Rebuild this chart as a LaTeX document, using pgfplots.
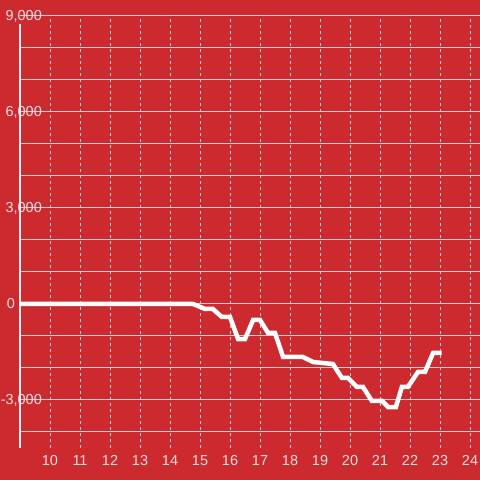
\documentclass[border=0pt]{standalone}
\usepackage{pgfplots}
\pgfplotsset{compat=1.18}
\usepackage{fontspec}
\setmainfont{Liberation Sans}
\definecolor{bg}{RGB}{204,42,46}
\definecolor{lbl}{RGB}{242,222,222}
\definecolor{gridc}{RGB}{205,205,205}
\begin{document}
\begin{tikzpicture}
\fill[bg] (0,0) rectangle (480bp,480bp);
\useasboundingbox (0,0) rectangle (480bp,480bp);
\begin{axis}[
  at={(20bp,32bp)}, anchor=south west,
  scale only axis, width=460bp, height=432bp,
  xmin=9, xmax=24.333, ymin=-4500, ymax=9000,
  xtick={10,11,...,24},
  ytick={-3000,3000,6000,9000},
  minor ytick={-4000,-2000,-1000,1000,2000,4000,5000,7000,8000},
  extra y ticks={0},
  extra y tick labels={0},
  extra y tick style={
    grid style={white, line width=2.6bp, solid},
    yticklabel style={xshift=-27bp},
  },
  scaled y ticks=false,
  /pgf/number format/1000 sep={,},
  /pgf/number format/assume math mode=true,
  major tick length=0pt, minor tick length=0pt,
  axis line style={draw=none},
  ymajorgrids, yminorgrids, xmajorgrids,
  y grid style={gridc, line width=1bp},
  minor y grid style={gridc, line width=1bp},
  x grid style={gridc, line width=1bp, dash pattern=on 3bp off 3bp},
  ticklabel style={color=lbl, font=\fontsize{14.5}{15}\selectfont},
  yticklabel style={anchor=east, inner sep=0pt, xshift=22bp},
  xticklabel style={anchor=north, inner sep=0pt, yshift=-7bp},
  clip=false,
]
\draw[white!94!bg, line width=2.8bp] (rel axis cs:0,0) -- (rel axis cs:0,0.982);
\addplot[white, line width=4.5bp, no markers] coordinates {
(9,0)(14.77,0)(15.17,-156)(15.43,-156)(15.73,-406)(16.0,-406)(16.27,-1094)(16.5,-1094)(16.77,-500)(17.0,-500)(17.27,-906)(17.5,-906)(17.77,-1656)(18.43,-1656)(18.77,-1813)(19.1,-1844)(19.43,-1875)(19.73,-2310)(19.93,-2310)(20.23,-2590)(20.43,-2590)(20.73,-3030)(21.07,-3030)(21.27,-3220)(21.53,-3220)(21.73,-2590)(21.93,-2590)(22.27,-2120)(22.5,-2120)(22.77,-1530)(23.05,-1530)
};
\end{axis}
\end{tikzpicture}
\end{document}
